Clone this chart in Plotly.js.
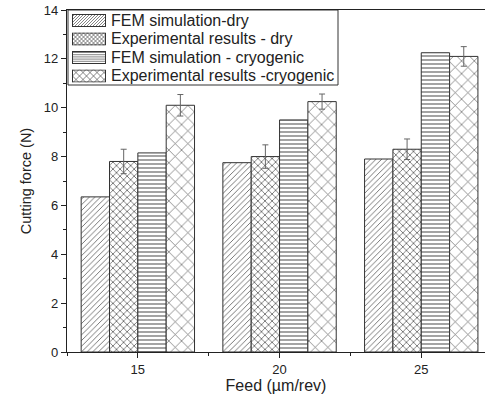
<!DOCTYPE html>
<html>
<head>
<meta charset="utf-8">
<script src="https://cdn.plot.ly/plotly-3.0.1.min.js"></script>
<style>
html,body{margin:0;padding:0;overflow:hidden;background:#fff;}
#chart{width:485px;height:402px;}
</style>
</head>
<body>
<div id="chart"></div>
<script>
const feeds = [15, 20, 25];
const seriesNames = ["FEM simulation-dry", "Experimental results - dry", "FEM simulation - cryogenic", "Experimental results -cryogenic"];
const femDry = [6.35, 7.75, 7.9];
const expDry = [7.8, 8.0, 8.3];
const expDryErr = [0.5, 0.48, 0.42];
const femCryo = [8.15, 9.5, 12.25];
const expCryo = [10.1, 10.25, 12.1];
const expCryoErr = [0.44, 0.31, 0.4];
const yTicks = [0, 2, 4, 6, 8, 10, 12, 14];

const W = 485, H = 402, ML = 67, MR = 0, MT = 10, MB = 50;
const PW = W - ML - MR, PH = H - MT - MB;
const lineCol = '#333';
const patCol = '#666';

const patterns = [
  {shape: '/', size: 4, sol: 0.22},
  {shape: 'x', size: 5, sol: 0.3},
  {shape: '-', size: 4, sol: 0.3},
  {shape: 'x', size: 9, sol: 0.15}
];

function mk(i, y, err) {
  const p = patterns[i];
  const t = {
    type: 'bar', x: feeds, y: y, name: seriesNames[i], showlegend: false,
    marker: {
      color: 'white',
      line: {color: lineCol, width: 1},
      pattern: {shape: p.shape, size: p.size, solidity: p.sol, fgcolor: patCol, bgcolor: 'white', fillmode: 'replace'}
    }
  };
  if (err) {
    t.error_y = {type: 'data', array: err, visible: true, color: '#666', thickness: 1, width: 3};
  }
  return t;
}
const data = [
  mk(0, femDry),
  mk(1, expDry, expDryErr),
  mk(2, femCryo),
  mk(3, expCryo, expCryoErr)
];

// legend swatches as small SVG images
function swatchSvg(i) {
  const w = 34, h = 13;
  let inner = '';
  const st = 'stroke="#666" stroke-width="0.8"';
  if (i === 0) {
    for (let k = -h; k < w + h; k += 3) inner += `<line x1="${k}" y1="${h}" x2="${k + h}" y2="0" ${st}/>`;
  } else if (i === 1 || i === 3) {
    const s = i === 1 ? 4 : 7;
    for (let k = -h; k < w + h; k += s) {
      inner += `<line x1="${k}" y1="${h}" x2="${k + h}" y2="0" ${st}/>`;
      inner += `<line x1="${k}" y1="0" x2="${k + h}" y2="${h}" ${st}/>`;
    }
  } else {
    for (let k = 1.5; k < h; k += 2.2) inner += `<line x1="0" y1="${k}" x2="${w}" y2="${k}" ${st}/>`;
  }
  const svg = `<svg xmlns="http://www.w3.org/2000/svg" width="${w}" height="${h}" viewBox="0 0 ${w} ${h}"><rect x="0" y="0" width="${w}" height="${h}" fill="white"/>${inner}<rect x="0.5" y="0.5" width="${w - 1}" height="${h - 1}" fill="none" stroke="#333" stroke-width="1"/></svg>`;
  return 'data:image/svg+xml;base64,' + btoa(svg);
}
const px2x = px => (px - ML) / PW;
const py2y = py => 1 - (py - MT) / PH;
const itemH = 18.5, firstC = 20.5;
const images = [], annotations = [];
for (let i = 0; i < 4; i++) {
  const c = firstC + i * itemH;
  images.push({source: swatchSvg(i), xref: 'paper', yref: 'paper', x: px2x(72), y: py2y(c - 6.5),
    sizex: 34 / PW, sizey: 13 / PH, xanchor: 'left', yanchor: 'top', sizing: 'stretch', layer: 'above'});
  annotations.push({text: seriesNames[i], xref: 'paper', yref: 'paper', x: px2x(109), y: py2y(c),
    xanchor: 'left', yanchor: 'middle', showarrow: false, font: {size: 16, color: '#222'}});
}
const shapes = [{type: 'rect', xref: 'paper', yref: 'paper', x0: px2x(68), x1: px2x(338), y0: py2y(85), y1: 1,
  fillcolor: 'rgba(0,0,0,0)', line: {color: '#333', width: 1}, layer: 'below'}];

const layout = {
  width: W, height: H,
  margin: {l: ML, r: MR, t: MT, b: MB},
  paper_bgcolor: 'white', plot_bgcolor: 'white',
  font: {family: 'Liberation Sans, Arial, sans-serif', color: '#222'},
  barmode: 'group', bargap: 0.2, bargroupgap: 0,
  showlegend: false,
  shapes: shapes, images: images, annotations: annotations,
  xaxis: {
    range: [12.5, 12.5 + PW / 28.34], tickvals: feeds, ticktext: feeds.map(String),
    ticks: 'outside', ticklen: 5, tickcolor: '#222', tickwidth: 1,
    minor: {tickvals: [12.5, 17.5, 22.5], ticks: 'outside', ticklen: 3, tickcolor: '#222'},
    showline: true, linecolor: '#222', linewidth: 1.2, mirror: true, showgrid: false, zeroline: false,
    tickfont: {size: 13, color: '#222'},
    title: {text: 'Feed (µm/rev)', font: {size: 16, color: '#222'}, standoff: 4}
  },
  yaxis: {
    range: [0, 14], tickvals: yTicks, ticktext: yTicks.map(String),
    ticks: 'outside', ticklen: 5, tickcolor: '#222', tickwidth: 1,
    minor: {tickvals: [1, 3, 5, 7, 9, 11, 13], ticks: 'outside', ticklen: 3, tickcolor: '#222'},
    showline: true, linecolor: '#222', linewidth: 1.2, mirror: false, showgrid: false, zeroline: false,
    tickfont: {size: 13, color: '#222'},
    title: {text: 'Cutting force (N)', font: {size: 14.5, color: '#222'}, standoff: 8}
  }
};
Plotly.newPlot('chart', data, layout, {staticPlot: true, displayModeBar: false});
</script>
</body>
</html>
